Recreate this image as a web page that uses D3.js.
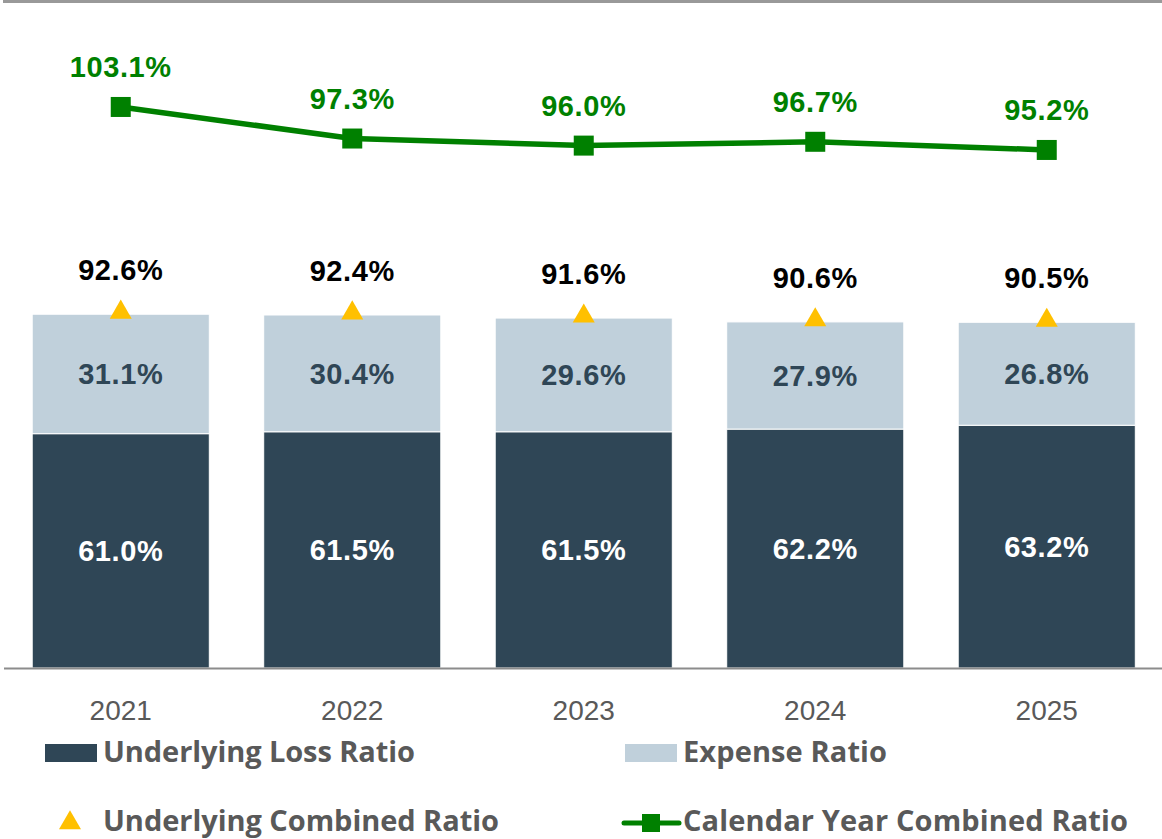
<!DOCTYPE html>
<html>
<head>
<meta charset="utf-8">
<script src="https://cdn.jsdelivr.net/npm/d3@7"></script>
<style>
  body { margin: 0; background: #fff; }
  svg { display: block; }
</style>
</head>
<body>
<script>
// data
var years = ["2021", "2022", "2023", "2024", "2025"];
var lossRatio = [61.0, 61.5, 61.5, 62.2, 63.2];
var expenseRatio = [31.1, 30.4, 29.6, 27.9, 26.8];
var underlyingCombined = [92.6, 92.4, 91.6, 90.6, 90.5];
var calendarCombined = [103.1, 97.3, 96.0, 96.7, 95.2];
var legendNames = ["Underlying Loss Ratio", "Expense Ratio", "Underlying Combined Ratio", "Calendar Year Combined Ratio"];

var w = 1162, h = 839;
var darkC = "#2f4656", lightC = "#c0d0db", goldC = "#ffc000", greenC = "#008000";
var labelFont = "'Liberation Sans', Arial, sans-serif";
var legendFont = "'Open Sans', Roboto, sans-serif";

var svg = d3.select("body").append("svg").attr("width", w).attr("height", h);

var x = d3.scaleBand().domain(years).range([5, 1162.5]).paddingInner(0.235).paddingOuter(0.1175);
var y = d3.scaleLinear().domain([0, 170]).range([668, 15]);
var y2 = d3.scaleLinear().domain([0, 120]).range([668, 15]);

// top rule
svg.append("line").attr("x1", 3).attr("x2", w).attr("y1", 1.5).attr("y2", 1.5)
	.attr("stroke", "#999").attr("stroke-width", 3);

var rows = years.map(function(d, i) {
	return { year: d, loss: lossRatio[i], exp: expenseRatio[i], uc: underlyingCombined[i], cy: calendarCombined[i] };
});

// stacked bars
svg.selectAll("rect.loss").data(rows).enter().append("rect").attr("class", "loss")
	.attr("x", function(d) { return x(d.year); })
	.attr("width", x.bandwidth())
	.attr("y", function(d) { return y(d.loss); })
	.attr("height", function(d) { return y(0) - y(d.loss); })
	.attr("fill", darkC).attr("stroke", "#fff").attr("stroke-width", 1);

svg.selectAll("rect.exp").data(rows).enter().append("rect").attr("class", "exp")
	.attr("x", function(d) { return x(d.year); })
	.attr("width", x.bandwidth())
	.attr("y", function(d) { return y(d.loss + d.exp); })
	.attr("height", function(d) { return y(d.loss) - y(d.loss + d.exp); })
	.attr("fill", lightC).attr("stroke", "#fff").attr("stroke-width", 1);

// baseline axis
svg.append("line").attr("x1", 4).attr("x2", w).attr("y1", y(0) + 0.5).attr("y2", y(0) + 0.5)
	.attr("stroke", "#8c8c8c").attr("stroke-width", 2);

var xAxis = svg.append("g").attr("transform", "translate(0," + y(0) + ")")
	.call(d3.axisBottom(x).tickSize(0).tickPadding(32));
xAxis.select(".domain").remove();
xAxis.selectAll("text").attr("font-family", labelFont).attr("font-size", 28)
	.attr("fill", "#595959").attr("dy", "0.71em");

// bar labels
function cx(d) { return x(d.year) + x.bandwidth() / 2; }

function lbl(sel) {
	sel.attr("text-anchor", "middle")
		.attr("font-family", labelFont).attr("font-weight", "bold").attr("font-size", 29)
		.attr("letter-spacing", 0.6);
}

svg.selectAll("text.lossLbl").data(rows).enter().append("text")
	.attr("x", cx).attr("y", function(d) { return (y(0) + y(d.loss)) / 2; })
	.attr("dy", "0.36em").call(lbl)
	.attr("fill", "#fff")
	.text(function(d) { return d.loss.toFixed(1) + "%"; });

svg.selectAll("text.expLbl").data(rows).enter().append("text")
	.attr("x", cx).attr("y", function(d) { return (y(d.loss) + y(d.loss + d.exp)) / 2; })
	.attr("dy", "0.36em").call(lbl)
	.attr("fill", "#2f4656")
	.text(function(d) { return d.exp.toFixed(1) + "%"; });

// underlying combined triangles
var tri = d3.symbol().type(d3.symbolTriangle).size(210);
svg.selectAll("path.uc").data(rows).enter().append("path")
	.attr("d", tri)
	.attr("transform", function(d) { return "translate(" + cx(d) + "," + y(d.uc) + ")"; })
	.attr("fill", goldC);

svg.selectAll("text.ucLbl").data(rows).enter().append("text")
	.attr("x", cx).attr("y", function(d) { return y(d.uc) - 32; })
	.call(lbl)
	.attr("fill", "#000")
	.text(function(d) { return d.uc.toFixed(1) + "%"; });

// calendar year line
var line = d3.line().x(cx).y(function(d) { return y2(d.cy); });
svg.append("path").datum(rows).attr("d", line)
	.attr("fill", "none").attr("stroke", greenC).attr("stroke-width", 5.5);

svg.selectAll("rect.cy").data(rows).enter().append("rect")
	.attr("x", function(d) { return cx(d) - 10; })
	.attr("y", function(d) { return y2(d.cy) - 10; })
	.attr("width", 20).attr("height", 20)
	.attr("fill", greenC);

svg.selectAll("text.cyLbl").data(rows).enter().append("text")
	.attr("x", cx).attr("y", function(d) { return y2(d.cy) - 30; })
	.call(lbl)
	.attr("fill", greenC)
	.text(function(d) { return d.cy.toFixed(1) + "%"; });

// legend
var lg = svg.append("g").attr("font-family", legendFont).attr("font-weight", "bold")
	.attr("font-size", 29).attr("fill", "#595959").attr("lengthAdjust", "spacingAndGlyphs");

lg.append("rect").attr("x", 45).attr("y", 744).attr("width", 52).attr("height", 18).attr("fill", darkC);
lg.append("text").attr("x", 103).attr("y", 762).attr("textLength", 312).text(legendNames[0]);

lg.append("rect").attr("x", 625).attr("y", 744).attr("width", 52).attr("height", 18).attr("fill", lightC);
lg.append("text").attr("x", 683).attr("y", 762).attr("textLength", 204).text(legendNames[1]);

lg.append("path").attr("d", d3.symbol().type(d3.symbolTriangle).size(210))
	.attr("transform", "translate(70,823)").attr("fill", goldC);
lg.append("text").attr("x", 103).attr("y", 831).attr("textLength", 396).text(legendNames[2]);

lg.append("line").attr("x1", 624).attr("x2", 679).attr("y1", 823).attr("y2", 823)
	.attr("stroke", greenC).attr("stroke-width", 5).attr("stroke-linecap", "round");
lg.append("rect").attr("x", 642).attr("y", 814).attr("width", 18).attr("height", 18).attr("fill", greenC);
lg.append("text").attr("x", 683).attr("y", 831).attr("textLength", 445).text(legendNames[3]);
</script>
</body>
</html>
